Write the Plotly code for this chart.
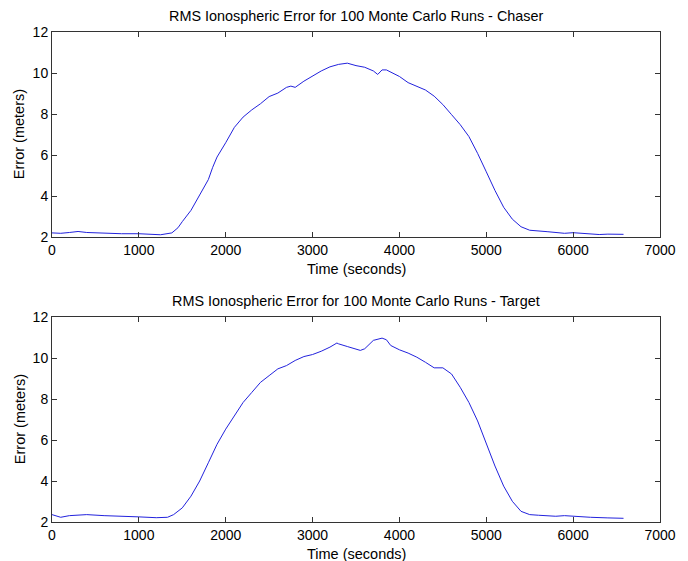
import plotly.graph_objects as go
from plotly.subplots import make_subplots

# Chaser RMS ionospheric error (time in seconds, error in meters)
chaser_t = [0, 100, 200, 300, 400, 600, 800, 1000, 1150, 1250, 1380, 1450, 1500, 1600, 1700,
            1800, 1850, 1900, 2000, 2100, 2200, 2300, 2400, 2500, 2600, 2700, 2750, 2800,
            2900, 3000, 3100, 3200, 3250, 3300, 3400, 3500, 3600, 3700, 3750, 3800, 3850,
            3900, 4000, 4100, 4200, 4300, 4400, 4500, 4600, 4700, 4800, 4900, 5000, 5100,
            5200, 5300, 5400, 5500, 5700, 5900, 6000, 6200, 6300, 6400, 6580]
chaser_e = [2.20, 2.18, 2.22, 2.27, 2.22, 2.18, 2.16, 2.16, 2.14, 2.11, 2.20, 2.45, 2.75, 3.30, 4.05,
            4.80, 5.40, 5.90, 6.60, 7.35, 7.85, 8.20, 8.50, 8.85, 9.02, 9.30, 9.36, 9.30,
            9.60, 9.85, 10.10, 10.30, 10.37, 10.42, 10.48, 10.36, 10.28, 10.10, 9.93, 10.15, 10.15,
            10.05, 9.83, 9.53, 9.33, 9.17, 8.87, 8.46, 7.97, 7.48, 6.90, 6.08, 5.18, 4.27,
            3.45, 2.87, 2.50, 2.33, 2.26, 2.18, 2.21, 2.14, 2.12, 2.14, 2.13]

# Target RMS ionospheric error
target_t = [0, 100, 200, 400, 600, 800, 1000, 1200, 1330, 1400, 1500, 1600, 1700, 1800, 1900,
            2000, 2100, 2200, 2300, 2400, 2500, 2600, 2700, 2800, 2900, 3000, 3100, 3200,
            3280, 3300, 3400, 3500, 3550, 3600, 3700, 3800, 3850, 3900, 4000, 4100, 4200,
            4300, 4400, 4500, 4600, 4700, 4800, 4900, 5000, 5100, 5200, 5300, 5400, 5500,
            5600, 5800, 5900, 6000, 6200, 6400, 6580]
target_e = [2.36, 2.23, 2.31, 2.36, 2.31, 2.29, 2.25, 2.21, 2.23, 2.36, 2.69, 3.26, 4.00, 4.89, 5.79,
            6.53, 7.18, 7.83, 8.32, 8.81, 9.14, 9.47, 9.63, 9.88, 10.07, 10.17, 10.33, 10.53,
            10.73, 10.69, 10.56, 10.45, 10.37, 10.45, 10.86, 10.97, 10.89, 10.61, 10.40, 10.24, 10.04,
            9.79, 9.52, 9.52, 9.22, 8.57, 7.83, 6.93, 5.79, 4.73, 3.75, 3.01, 2.52, 2.36,
            2.33, 2.28, 2.31, 2.28, 2.23, 2.20, 2.18]

titles = ["RMS Ionospheric Error for 100 Monte Carlo Runs - Chaser",
          "RMS Ionospheric Error for 100 Monte Carlo Runs - Target"]
x_label = "Time (seconds)"
y_label = "Error (meters)"
x_ticks = [0, 1000, 2000, 3000, 4000, 5000, 6000, 7000]
y_ticks = [2, 4, 6, 8, 10, 12]

W, H = 688, 561
L, R, T, B = 52, 16, 32, 39
ph = H - T - B
gap = 80
axh = (ph - gap) / 2

fig = make_subplots(rows=2, cols=1, vertical_spacing=gap / ph)
fig.add_trace(go.Scatter(x=chaser_t, y=chaser_e, mode="lines",
                         line=dict(color="#2222dd", width=1)), row=1, col=1)
fig.add_trace(go.Scatter(x=target_t, y=target_e, mode="lines",
                         line=dict(color="#2222dd", width=1)), row=2, col=1)

font = "Liberation Sans, Arial, sans-serif"
axis_common = dict(showline=True, linecolor="#333333", linewidth=1, mirror="ticks",
                   ticks="inside", ticklen=5, tickcolor="#333333", showgrid=False,
                   zeroline=False, tickfont=dict(family=font, size=14, color="black"))
for r in (1, 2):
    fig.update_xaxes(range=[0, 7000], tickvals=x_ticks, row=r, col=1, **axis_common)
    fig.update_yaxes(range=[2, 12], tickvals=y_ticks, row=r, col=1, **axis_common)

def py(p):
    return (H - B - p) / ph

top0, top1 = T, T + axh
bot0, bot1 = T + axh + gap, H - B
ann = []
for (a0, a1), title in zip([(top0, top1), (bot0, bot1)], titles):
    ann.append(dict(text=title, x=0.5, y=py(a0 - 16), xref="paper", yref="paper",
                    showarrow=False, xanchor="center", yanchor="middle",
                    font=dict(family=font, size=14.4, color="black")))
    ann.append(dict(text=x_label, x=0.5, y=py(a1 + 32), xref="paper", yref="paper",
                    showarrow=False, xanchor="center", yanchor="middle",
                    font=dict(family=font, size=14.5, color="black")))
    ann.append(dict(text=y_label, x=(19 - L) / (W - L - R), y=py((a0 + a1) / 2),
                    xref="paper", yref="paper", textangle=-90,
                    showarrow=False, xanchor="center", yanchor="middle",
                    font=dict(family=font, size=14.5, color="black")))

fig.update_layout(width=W, height=H, margin=dict(l=L, r=R, t=T, b=B),
                  plot_bgcolor="white", paper_bgcolor="white",
                  showlegend=False, annotations=ann)

fig.write_html("out.html")
